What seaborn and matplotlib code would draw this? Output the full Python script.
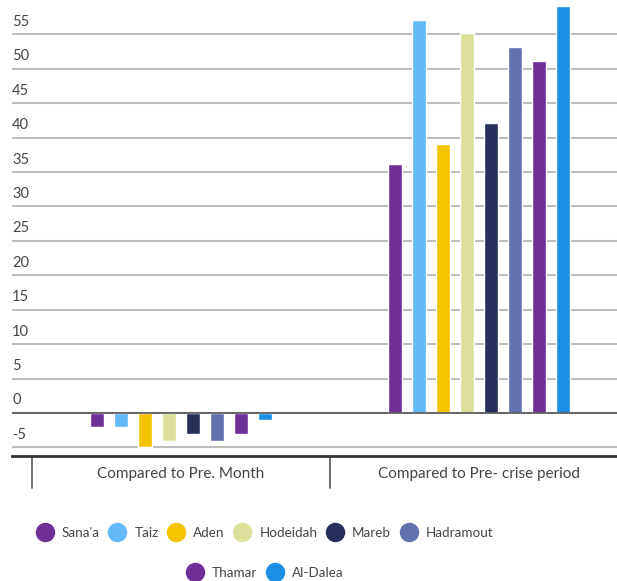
import pandas as pd
import numpy as np
import matplotlib
matplotlib.use("Agg")
import matplotlib.pyplot as plt
import matplotlib.transforms as mtransforms
from matplotlib.lines import Line2D
import seaborn as sns

# --- dane ---
periods = ['Compared to Pre. Month', 'Compared to Pre- crise period']
cities = ['Sana\'a', 'Taiz', 'Aden', 'Hodeidah', 'Mareb', 'Hadramout', 'Thamar', 'Al-Dalea']
pre_month = [-2, -2, -5, -4, -3, -4, -3, -1]
pre_crisis = [36.2, 57.1, 39.1, 55.2, 42.1, 53.1, 51.2, 59.2]
colors = ['#6E2F96', '#64B9F8', '#F5C400', '#DCE09B', '#26305A', '#6272AE', '#6E2F96', '#1B8FE3']
y_ticks = list(range(-5, 60, 5))

df = pd.DataFrame({
    'period': [periods[0]] * len(cities) + [periods[1]] * len(cities),
    'city': cities * 2,
    'value': pre_month + pre_crisis,
})

sns.set_theme(style="white")
plt.rcParams['font.family'] = ['Lato', 'DejaVu Sans']
text_col = '#444444'

fig = plt.figure(figsize=(6.17, 5.81), dpi=100)
ax = fig.add_axes([12 / 617, 125 / 581, 616 / 617, 456 / 581])

sns.barplot(data=df, x='period', y='value', hue='city', hue_order=cities,
            palette=colors, width=0.645, gap=0.42, legend=False, ax=ax,
            saturation=1, errorbar=None)

ax.set_xlim(-0.567, 1.5)
ax.set_ylim(-6.25, 60)

# siatka + etykiety osi y wewnatrz wykresu
for t in y_ticks:
    ax.axhline(t, color='#bdbdbd', lw=1.5, zorder=0)
ax.axhline(0, color='#555555', lw=1.2, zorder=3)
off = mtransforms.offset_copy(ax.get_yaxis_transform(), fig=fig, x=0, y=4, units='points')
for t in y_ticks:
    ax.text(0.0, t, str(t), transform=off, ha='left', va='bottom',
            fontsize=10.5, color=text_col)

ax.set_yticks([])
ax.set_xlabel('')
ax.set_ylabel('')
for s in ['top', 'right', 'left']:
    ax.spines[s].set_visible(False)
ax.spines['bottom'].set_color('#333333')
ax.spines['bottom'].set_linewidth(2)
ax.tick_params(axis='x', length=0, pad=8, labelsize=11, labelcolor=text_col)

# separatory kategorii
sep_tr = ax.get_xaxis_transform()
for x in [-0.5, 0.5, 1.5]:
    ax.plot([x, x], [0, -0.07], transform=sep_tr, color='#555555', lw=1.2, clip_on=False)

# legenda
def handles(idx):
    return [Line2D([0], [0], marker='o', color='none', markerfacecolor=colors[i],
                   markeredgecolor='none', markersize=14, label=cities[i]) for i in idx]

leg_kw = dict(frameon=False, handletextpad=0.65, columnspacing=0.72, handlelength=1.2,
              labelcolor=text_col, prop={'size': 9.7})
leg1 = fig.legend(handles=handles(range(6)), ncol=6, loc='center',
                  bbox_to_anchor=(265 / 617, 1 - 533 / 581), **leg_kw)
leg2 = fig.legend(handles=handles([6, 7]), ncol=2, loc='center',
                  bbox_to_anchor=(265 / 617, 1 - 573 / 581), **leg_kw)

fig.savefig('out.png', dpi=100)
